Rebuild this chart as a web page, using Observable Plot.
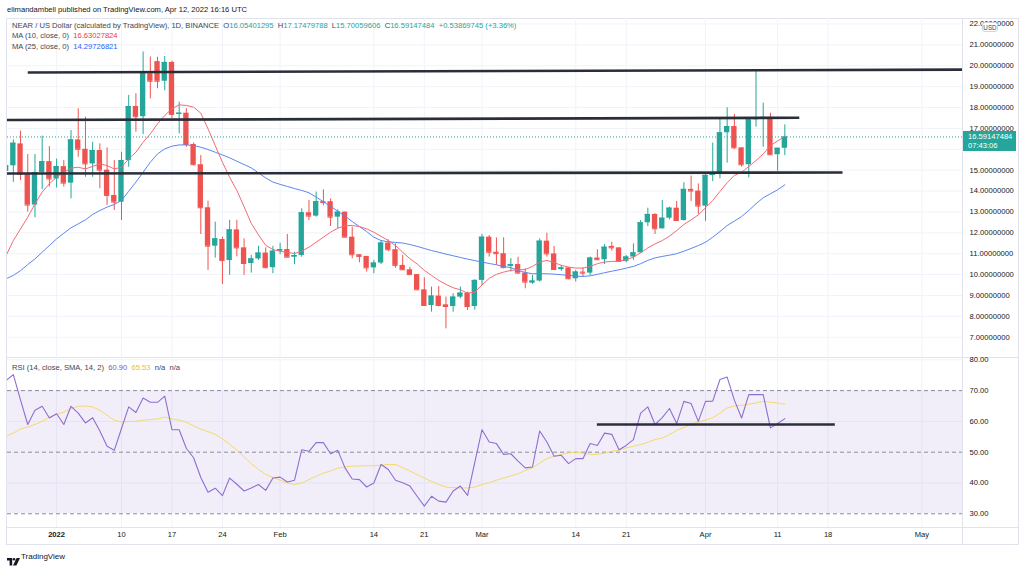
<!DOCTYPE html>
<html><head><meta charset="utf-8">
<script src="https://cdn.jsdelivr.net/npm/d3@7"></script>
<script src="https://cdn.jsdelivr.net/npm/@observablehq/plot@0.6"></script>
<style>
body{margin:0;background:#fff;}
#root{position:relative;width:1024px;height:567px;overflow:hidden;background:#fff;font-family:"Liberation Sans",Arial,sans-serif;color:#131722;}
.t{position:absolute;white-space:nowrap;font-size:7.6px;line-height:9px;}
.ln{position:absolute;background:#e0e3eb;}
svg{position:absolute;}
</style></head><body><div id="root"></div>
<script>
// ---------- data ----------
const firstDay = "2021-12-25";
const dayAfterLast = "2022-04-13";
const opens  = [14.94,15.21,16.26,14.80,13.33,14.89,15.41, 14.58,15.17,14.38,16.45,16.00,15.30,15.94,15.00,13.79,13.47,15.46,18.05,17.56,19.62,20.20,19.26,20.16,17.67,17.73,16.23,15.26,13.20,11.36,11.68,10.67,12.14,11.28,10.53,10.75,11.03,10.33, 11.12,11.20,10.83,10.91,12.96,12.80,13.49,13.49,12.75,12.99,11.79,10.95,10.87,10.32,10.55,11.51,11.19,10.44,10.23,10.00,9.27,8.52,8.97,8.55,8.47,8.92,9.11,8.47, 9.72,11.79,11.07,11.00,10.39,10.48,10.07,9.59,9.69,11.60,10.99,10.24,10.32,9.80,10.12,10.07,10.79,10.71,11.35,11.28,10.63,10.84,11.04,12.48,12.88,12.19,12.70,13.18,12.59,14.08,14.00, 13.28,14.75,14.81,16.79,17.09,16.07,15.26,17.41,17.51,17.53,15.74,16.05];
const highs  = [15.35,16.45,16.87,15.75,15.75,16.63,16.13, 15.53,15.46,16.90,17.94,17.54,16.34,16.26,16.07,15.46,15.86,18.58,18.66,20.66,20.42,20.41,20.45,20.22,18.26,17.94,16.30,15.70,13.52,12.51,11.79,12.60,12.60,11.71,10.92,11.35,11.28,11.35, 11.50,11.92,11.07,13.15,13.55,13.95,14.06,13.63,13.10,12.99,12.27,10.95,10.87,10.68,11.63,11.66,11.47,10.92,10.35,10.00,9.85,9.40,9.43,8.92,9.08,9.40,9.16,9.75, 11.92,11.87,11.75,11.76,10.76,10.83,10.28,9.96,11.71,11.98,11.35,10.44,10.32,10.20,10.32,10.84,11.19,11.44,11.55,11.28,10.92,11.47,12.59,13.18,12.91,13.55,13.23,13.50,14.40,14.72,14.34, 14.80,16.30,17.46,17.99,17.67,16.07,17.46,19.77,18.21,17.73,16.02,17.17];
const lows   = [14.80,14.42,14.50,12.99,12.72,14.06,14.19, 14.15,14.19,13.63,15.62,14.66,14.66,14.11,13.31,13.07,12.59,15.14,16.82,16.70,18.42,18.90,18.80,17.46,16.74,16.10,15.20,11.92,10.20,10.79,9.52,9.96,10.85,9.96,10.07,10.68,10.28,10.04, 10.95,10.83,10.47,10.83,12.59,12.75,13.30,12.30,12.19,11.76,10.76,10.56,10.12,10.04,10.48,11.10,10.30,10.20,9.95,9.24,8.50,8.20,8.45,7.40,8.20,8.84,8.28,8.30, 9.48,10.84,10.44,10.28,10.12,10.04,9.32,9.53,9.64,10.84,10.20,10.15,9.75,9.64,9.88,9.96,10.68,10.48,11.12,10.60,10.56,10.68,11.03,12.30,11.92,12.19,12.62,12.56,12.56,13.50,12.87, 12.55,14.45,14.59,15.34,16.00,15.15,14.63,17.06,16.10,15.70,14.95,15.70];
const closes = [15.21,16.29,14.80,13.33,14.89,15.41,14.58, 15.17,14.38,16.45,16.00,15.30,15.94,15.00,13.79,13.47,15.46,18.05,17.56,19.62,19.26,19.26,20.16,17.67,17.73,16.23,15.26,13.20,11.36,11.71,10.67,12.14,11.28,10.53,10.75,11.03,10.33,11.12, 11.20,10.83,10.91,12.96,12.80,13.49,13.45,12.75,12.99,11.79,10.95,10.87,10.32,10.55,11.51,11.19,10.44,10.23,10.00,9.27,8.52,8.97,8.52,8.47,8.92,9.11,8.47,9.72, 11.79,11.07,11.00,10.33,10.48,10.07,9.64,9.69,11.60,10.99,10.24,10.32,9.80,10.12,10.07,10.79,10.71,11.31,11.28,10.63,10.84,11.04,12.48,12.88,12.19,12.70,13.18,12.59,14.08,14.00,13.28, 14.75,14.81,16.79,17.09,16.07,15.26,17.41,17.51,17.53,15.74,16.05,16.59];
const ma10 = [10.91,11.63,12.19,12.75,13.39,13.95,14.35, 14.66,14.90,15.10,15.14,15.06,15.18,15.30,15.22,15.06,15.14,15.54,15.86,16.34,16.74,17.22,17.62,17.94,18.13,18.10,18.02,17.73,16.98,16.18,15.38,14.66,14.03,13.25,12.45,11.90,11.40,11.20, 11.12,11.06,11.01,11.12,11.31,11.55,11.79,12.03,12.22,12.34,12.35,12.30,12.19,12.03,11.83,11.63,11.39,11.07,10.76,10.51,10.20,9.96,9.72,9.53,9.37,9.27,9.11,9.16, 9.50,9.82,10.01,10.12,10.20,10.23,10.24,10.39,10.60,10.68,10.58,10.44,10.36,10.31,10.31,10.39,10.52,10.60,10.63,10.64,10.71,10.84,11.04,11.28,11.47,11.63,11.84,12.11,12.40,12.62,12.86, 13.20,13.55,13.98,14.40,14.75,14.90,15.18,15.46,15.78,16.18,16.40,16.63];
const ma25 = [9.80,9.96,10.19,10.48,10.75,11.07,11.39, 11.71,11.98,12.24,12.43,12.62,12.88,13.07,13.23,13.36,13.55,13.99,14.43,14.90,15.38,15.78,16.02,16.15,16.21,16.21,16.18,16.10,15.99,15.86,15.73,15.59,15.43,15.27,15.11,14.87,14.63,14.43, 14.32,14.22,14.12,14.03,13.92,13.71,13.49,13.26,13.04,12.80,12.54,12.30,12.06,11.79,11.63,11.57,11.54,11.51,11.44,11.35,11.25,11.15,11.07,10.98,10.90,10.82,10.74,10.67, 10.60,10.53,10.47,10.39,10.33,10.20,10.10,10.04,10.04,10.04,10.02,9.99,9.96,9.93,9.91,9.94,10.01,10.09,10.16,10.23,10.31,10.39,10.52,10.68,10.80,10.87,10.93,11.00,11.12,11.25,11.39, 11.55,11.79,12.06,12.35,12.56,12.78,13.07,13.39,13.68,13.87,14.06,14.30];
const rsiValues = [73.3,75.2,66.9,59.0,63.6,64.9,61.1, 62.5,59.0,64.9,62.7,59.5,61.2,56.9,51.9,50.6,57.7,64.7,62.9,67.6,66.2,66.2,68.2,57.3,57.3,51.2,48.2,41.8,37.0,38.3,35.9,41.6,39.6,37.4,38.4,39.5,37.6,41.6, 41.9,40.3,40.9,50.8,50.3,53.1,53.1,49.5,50.6,44.9,41.3,41.1,38.7,40.0,46.0,44.4,40.9,40.1,39.0,35.7,32.5,35.7,34.1,33.8,37.4,39.0,36.0,46.7, 57.3,53.3,52.8,49.3,49.5,47.1,44.9,45.2,56.9,53.3,48.7,49.0,46.3,47.9,47.9,52.8,52.2,56.2,55.8,50.8,52.2,54.1,62.7,64.7,59.0,61.2,64.2,59.3,66.5,65.8,60.0, 66.5,66.6,73.6,74.4,66.9,61.1,68.7,68.7,68.7,57.9,59.3,60.9];
const rsiMaValues = [55.2,56.2,57.5,58.2,59.0,60.0,61.4, 62.3,63.0,64.2,64.9,65.0,64.7,63.6,62.0,60.4,59.8,60.0,60.0,60.4,60.6,60.8,61.4,60.8,60.4,59.7,58.6,57.5,56.7,55.8,54.3,52.6,50.6,48.5,46.3,44.4,42.8,41.8, 40.9,40.0,39.5,40.0,41.1,42.2,43.2,43.9,44.8,45.2,45.5,45.5,45.6,45.6,45.8,46.0,46.0,45.0,43.9,42.7,41.6,40.5,39.5,38.7,38.5,38.4,38.4,38.7, 39.5,40.1,40.9,41.6,42.3,43.0,44.1,44.9,46.5,47.9,48.7,49.3,49.8,50.0,49.7,49.3,49.3,49.7,50.3,50.6,51.4,51.9,52.5,53.2,54.1,54.6,55.7,57.1,58.0,59.1,59.8, 60.4,61.2,62.7,64.4,65.0,65.2,65.6,66.0,66.5,66.2,66.0,65.53];

// drawn trend lines (start date, start value, end date, end value)
const levelStart = ["2021-12-28","2021-12-25","2021-12-25"];
const levelStartVal = [19.68,17.40,14.84];
const levelEnd = ["2022-05-08","2022-04-14","2022-04-20"];
const levelEndVal = [19.82,17.51,14.89];
const rsiLevelStart = ["2022-03-17"], rsiLevelEnd = ["2022-04-19"], rsiLevelVal = [59.0];

// ticks
const timeTickDays = ["2022-01-01","2022-01-10","2022-01-17","2022-01-24","2022-02-01","2022-02-14","2022-02-21","2022-03-01","2022-03-14","2022-03-21","2022-04-01","2022-04-11","2022-04-18","2022-05-01"];
const timeTickLabels = ["2022","10","17","24","Feb","14","21","Mar","14","21","Apr","11","18","May"];
const priceGrid = [7,8,9,10,11,12,13,14,15,16,17,18,19,20,21,22];
const priceLabels = [7,8,9,10,11,12,13,14,15,17,18,19,20,21,22]; // 16 is hidden behind the last-price tag
const rsiTicks = [30,40,50,60,70,80];
const lastPrice = 16.59147484;

// ---------- build ----------
const root = document.getElementById("root");
const dates = d3.utcDay.range(new Date(firstDay), new Date(dayAfterLast));
const candles = dates.map((date, i) => ({date, open: opens[i], high: highs[i], low: lows[i], close: closes[i],
  ma10: ma10[i], ma25: ma25[i], rsi: rsiValues[i], rsiMa: rsiMaValues[i]}));
const up = candles.filter(d => d.close >= d.open), down = candles.filter(d => d.close < d.open);
const levels = levelStart.map((s, i) => ({x1: new Date(s), y1: levelStartVal[i], x2: new Date(levelEnd[i]), y2: levelEndVal[i]}));
const rsiLevels = rsiLevelStart.map((s, i) => ({x1: new Date(s), x2: new Date(rsiLevelEnd[i]), y: rsiLevelVal[i]}));
const ticks = timeTickDays.map((d, i) => ({date: new Date(d), label: timeTickLabels[i]}));

const DAY = 864e5, HALF = 0.37 * DAY;
const UP = "#26a69a", DOWN = "#ef5350", GRID = "#f0f3fa", TXT = "#131722";
const xDomain = [new Date("2021-12-25T04:34Z"), new Date("2022-05-06T15:21Z")];
const FONT = '"Liberation Sans", Arial, sans-serif';
const common = {width: 1018, marginLeft: 7, marginRight: 56,
  x: {type: "utc", domain: xDomain, axis: null},
  style: {fontFamily: FONT, fontSize: "7.6px", background: "transparent", overflow: "visible", color: TXT}};

function candleMarks(data, color) {
  return [
    Plot.ruleX(data, {x: "date", y1: "low", y2: "high", stroke: color, strokeWidth: 1, clip: true}),
    Plot.rect(data, {x1: d => new Date(+d.date - HALF), x2: d => new Date(+d.date + HALF), y1: "open", y2: "close", fill: color, clip: true}),
    Plot.ruleY(data, {y: "close", x1: d => new Date(+d.date - HALF), x2: d => new Date(+d.date + HALF), stroke: color, strokeWidth: 1, clip: true})
  ];
}

const pricePlot = Plot.plot({
  ...common, height: 339, marginTop: 0, marginBottom: 0,
  y: {domain: [6.028, 22.265], axis: null},
  marks: [
    Plot.ruleY(priceGrid, {stroke: GRID}),
    Plot.ruleX(ticks, {x: "date", stroke: GRID}),
    ...candleMarks(up, UP),
    ...candleMarks(down, DOWN),
    Plot.line(candles, {x: "date", y: "ma25", stroke: "#5b86f0", strokeWidth: 1, clip: true}),
    Plot.line(candles, {x: "date", y: "ma10", stroke: "#f36b73", strokeWidth: 1, clip: true}),
    Plot.ruleY([lastPrice], {stroke: UP, strokeDasharray: "1,2", strokeWidth: 1}),
    Plot.link(levels, {x1: "x1", y1: "y1", x2: "x2", y2: "y2", stroke: "#2a2e39", strokeWidth: 2.6, clip: true}),
    Plot.text(priceLabels, {y: d => d, frameAnchor: "right", dx: 7, textAnchor: "start", text: d => d.toFixed(8), fill: TXT, fontSize: 7.6})
  ]
});
pricePlot.style.left = "0px"; pricePlot.style.top = "18px";

const rsiPlot = Plot.plot({
  ...common, height: 187, marginTop: 0, marginBottom: 17,
  y: {domain: [25.55, 80.75], axis: null},
  marks: [
    Plot.ruleX(ticks, {x: "date", stroke: GRID}),
    Plot.ruleY([40, 60, 80], {stroke: GRID}),
    Plot.rect([{a: xDomain[0], b: xDomain[1], lo: 30, hi: 70}], {x1: "a", x2: "b", y1: "lo", y2: "hi", fill: "#7e57c2", fillOpacity: 0.1}),
    Plot.ruleY([70, 50, 30], {stroke: "#8a8d98", strokeDasharray: "4,3", strokeWidth: 1}),
    Plot.line(candles, {x: "date", y: "rsiMa", stroke: "#f4d96c", strokeWidth: 1, clip: true}),
    Plot.line(candles, {x: "date", y: "rsi", stroke: "#8e6fd0", strokeWidth: 1.1, clip: true}),
    Plot.ruleY(rsiLevels, {y: "y", x1: "x1", x2: "x2", stroke: "#2a2e39", strokeWidth: 2.4}),
    Plot.text(rsiTicks, {y: d => d, frameAnchor: "right", dx: 7, textAnchor: "start", text: d => d.toFixed(2), fill: TXT, fontSize: 7.6}),
    Plot.text(ticks.filter(d => d.label === "2022"), {x: "date", frameAnchor: "bottom", dy: 9, text: "label", fill: TXT, fontSize: 7.6, fontWeight: "bold"}),
    Plot.text(ticks.filter(d => d.label !== "2022"), {x: "date", frameAnchor: "bottom", dy: 9, text: "label", fill: TXT, fontSize: 7.6})
  ]
});
rsiPlot.style.left = "0px"; rsiPlot.style.top = "357px";

// frame lines
function line(l, t, w, h) { const d = document.createElement("div"); d.className = "ln";
  Object.assign(d.style, {left: l + "px", top: t + "px", width: w + "px", height: h + "px"}); root.appendChild(d); }
line(6, 17.5, 1012, 1); line(6, 543.5, 1012, 1); line(6, 17.5, 1, 527); line(1017.5, 17.5, 1, 527);
line(6, 356.5, 1012, 1); line(6, 526.5, 1012, 1); line(962, 17.5, 1, 527);

root.appendChild(pricePlot);
root.appendChild(rsiPlot);

function text(html, l, t, extra) { const d = document.createElement("div"); d.className = "t";
  d.style.left = l + "px"; d.style.top = t + "px"; if (extra) Object.assign(d.style, extra); d.innerHTML = html; root.appendChild(d); return d; }
const G = `style="color:${UP}"`;
text("elimandambell published on TradingView.com, Apr 12, 2022 16:16 UTC", 7, 4.5, {color: "#131722"});
text(`NEAR / US Dollar (calculated by TradingView), 1D, BINANCE&nbsp; O<span ${G}>16.05401295</span>&nbsp; H<span ${G}>17.17479788</span>&nbsp; L<span ${G}>15.70059606</span>&nbsp; C<span ${G}>16.59147484</span>&nbsp; <span ${G}>+0.53869745 (+3.36%)</span>`, 12, 20.5, {color: "#434651"});
text(`MA (10, close, 0)&nbsp; <span style="color:#f23645">16.63027824</span>`, 12, 31, {color: "#434651"});
text(`MA (25, close, 0)&nbsp; <span style="color:#2962ff">14.29726821</span>`, 12, 41.5, {color: "#434651"});
text(`RSI (14, close, SMA, 14, 2)&nbsp; <span style="color:#7e57c2">60.90</span>&nbsp; <span style="color:#e6c229">65.53</span>&nbsp; n/a&nbsp; n/a`, 12, 362.5, {color: "#434651"});

// last-price tag positioned via the price scale
const yLast = 18 + pricePlot.scale("y").apply(lastPrice);
const tag = document.createElement("div");
Object.assign(tag.style, {position: "absolute", left: "963px", top: (yLast - 5) + "px", width: "53px", height: "19.5px", background: UP,
  color: "#fff", fontSize: "7.6px", lineHeight: "9px", paddingLeft: "5px", boxSizing: "border-box", paddingTop: "0.5px", fontFamily: FONT});
tag.innerHTML = "16.59147484<br>07:43:06";
root.appendChild(tag);

// USD badge
text("USD", 982, 21.5, {width: "16px", height: "10px", lineHeight: "10px", fontSize: "6.3px", textAlign: "center",
  background: "#fff", border: "1px solid #d1d4dc", borderRadius: "3px", boxSizing: "border-box", color: "#434651"});

// TradingView mark
const logo = document.createElement("div");
Object.assign(logo.style, {position: "absolute", left: "7px", top: "551px", height: "10px"});
logo.innerHTML = `<svg width="13" height="8" viewBox="0 0 13 8" style="position:relative;top:0.5px"><path d="M0 0h5.2v7.6h-2.6V2.6H0z" fill="#131722"/><circle cx="7" cy="1.3" r="1.3" fill="#131722"/><path d="M9.6 0H13L9.4 7.6H6z" fill="#131722"/></svg>`;
root.appendChild(logo);
text("TradingView", 21, 551.5, {fontSize: "8px", color: "#131722"});
</script></body></html>
